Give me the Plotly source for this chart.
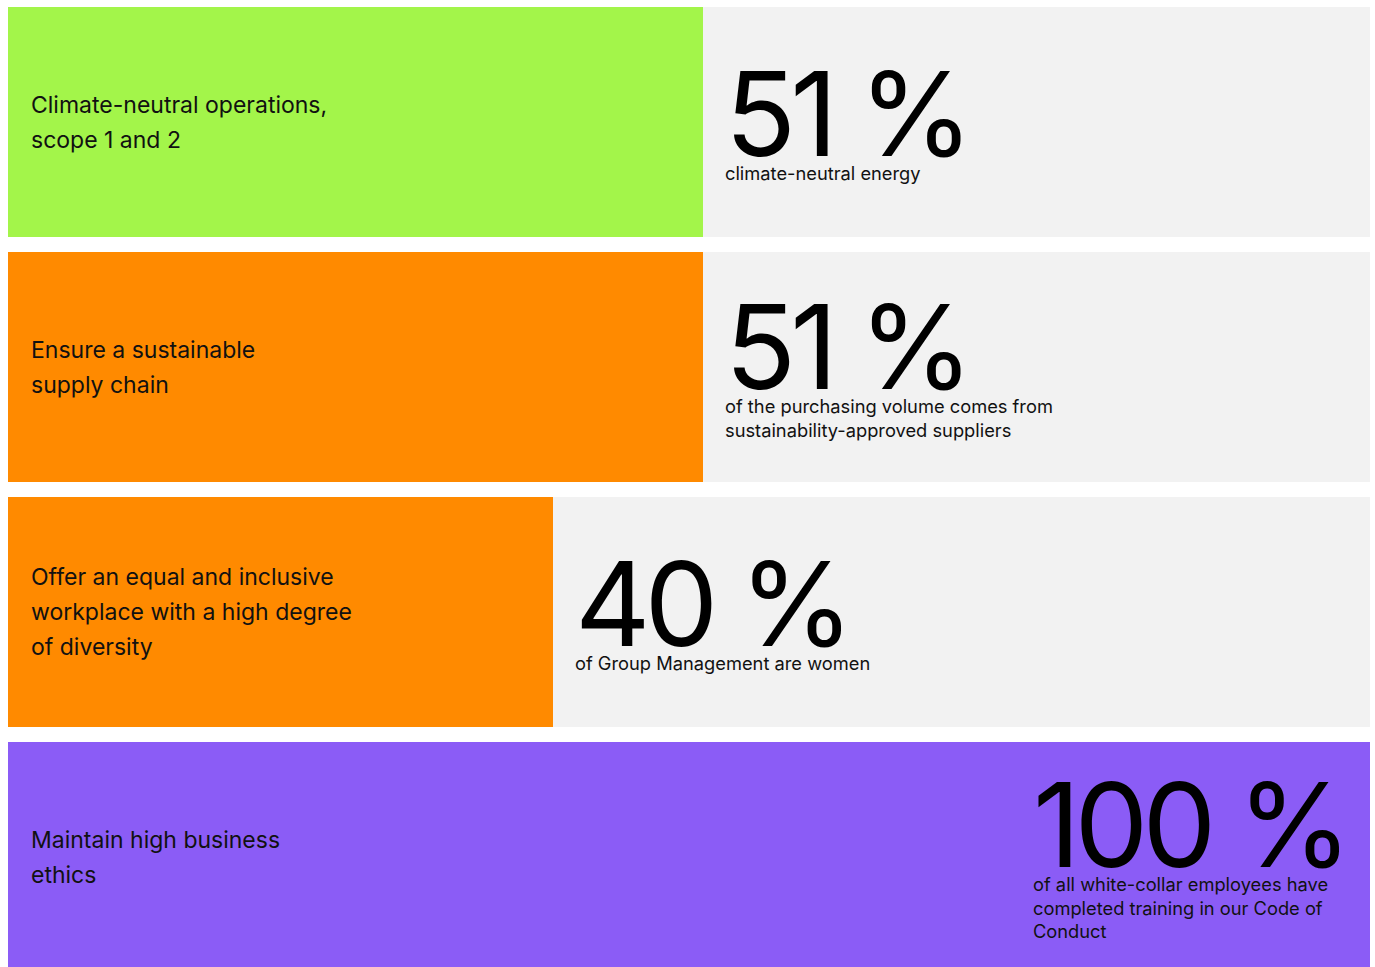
import plotly.graph_objects as go

# Sustainability goals and their current achievement
goals = [
    ["Climate-neutral operations,", "scope 1 and 2"],
    ["Ensure a sustainable", "supply chain"],
    ["Offer an equal and inclusive", "workplace with a high degree", "of diversity"],
    ["Maintain high business", "ethics"],
]
values = [51, 51, 40, 100]
descriptions = [
    ["climate-neutral energy"],
    ["of the purchasing volume comes from", "sustainability-approved suppliers"],
    ["of Group Management are women"],
    ["of all white-collar employees have", "completed training in our Code of", "Conduct"],
]
bar_colors = ["#A3F54A", "#FF8A00", "#FF8A00", "#8B5CF6"]
track_color = "#F2F2F2"

FONT = "Inter, Roboto, sans-serif"
rows = list(range(len(values)))

fig = go.Figure()
fig.add_trace(go.Bar(
    y=rows, x=[100] * len(values), orientation="h", width=0.939,
    marker=dict(color=track_color, line_width=0), hoverinfo="skip", showlegend=False,
))
fig.add_trace(go.Bar(
    y=rows, x=values, orientation="h", width=0.939,
    marker=dict(color=bar_colors, line_width=0), hoverinfo="skip", showlegend=False,
))


def big_value(v):
    # large figure with tightened tracking, followed by the explanatory lines
    return (
        f"<span style='font-size:117px;letter-spacing:-6px;fill:#000000'>{v}"
        f"<span style='letter-spacing:-6px'> </span>%</span>"
    )


annotations = []
for i, (goal, v, desc) in enumerate(zip(goals, values, descriptions)):
    n = len(goal)
    for k, line in enumerate(goal):
        annotations.append(dict(
            x=0, y=i, xref="x", yref="y", xanchor="left", yanchor="middle",
            xshift=21, yshift=-(k - (n - 1) / 2) * 35,
            text=line, showarrow=False,
            font=dict(family=FONT, size=23, color="#111111"),
        ))
    xshift = 20 if v < 100 else -339
    annotations.append(dict(
        x=v, y=i, xref="x", yref="y", xanchor="left", yanchor="middle",
        xshift=xshift, yshift=9,
        text=big_value(v) + "<br>" + "<br>".join(desc),
        showarrow=False, align="left",
        font=dict(family=FONT, size=18.3, color="#111111"),
    ))

fig.update_layout(
    width=1375, height=967,
    margin=dict(l=8, r=5, t=0, b=0),
    paper_bgcolor="white", plot_bgcolor="white",
    barmode="overlay", bargap=0,
    xaxis=dict(range=[0, 100], visible=False, fixedrange=True),
    yaxis=dict(range=[3.449, -0.498], visible=False, fixedrange=True),
    annotations=annotations,
    hovermode=False,
)

fig.write_html("out.html", config={"displayModeBar": False})
